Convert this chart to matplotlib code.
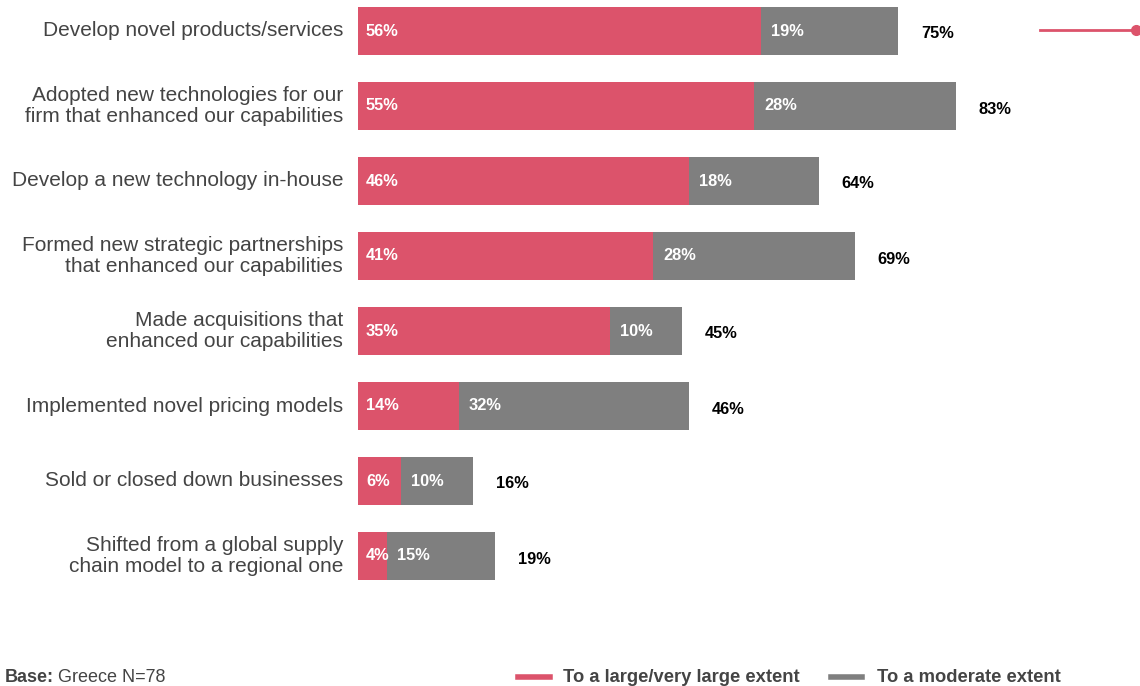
import matplotlib
matplotlib.use("Agg")
import matplotlib.pyplot as plt
from matplotlib.lines import Line2D

plt.rcParams['font.family'] = ['Liberation Sans', 'DejaVu Sans']

categories = [
    "Develop novel products/services",
    "Adopted new technologies for our\nfirm that enhanced our capabilities",
    "Develop a new technology in-house",
    "Formed new strategic partnerships\nthat enhanced our capabilities",
    "Made acquisitions that\nenhanced our capabilities",
    "Implemented novel pricing models",
    "Sold or closed down businesses",
    "Shifted from a global supply\nchain model to a regional one",
]
large_extent = [56, 55, 46, 41, 35, 14, 6, 4]
moderate_extent = [19, 28, 18, 28, 10, 32, 10, 15]
totals = [75, 83, 64, 69, 45, 46, 16, 19]

RED = "#DC536B"
GREY = "#7F7F7F"
TEXT = "#444444"

W, H = 1140, 686
fig = plt.figure(figsize=(W / 100, H / 100), dpi=100)

# axes: bars start at x=358px, 7.2 px per percentage point
left_px, bottom_px, top_px = 358, 600, 0
ax = fig.add_axes([left_px / W, 1 - bottom_px / H, (W - left_px) / W, (bottom_px - top_px) / H])
px_per_pct = 7.2
ax.set_xlim(0, (W - left_px) / px_per_pct)
row_px = 75.0
first_center = 31.0
ax.set_ylim((bottom_px - first_center) / row_px, (top_px - first_center) / row_px)
ax.axis("off")

ys = list(range(len(categories)))
bar_h = 0.64
ax.barh(ys, large_extent, height=bar_h, color=RED, linewidth=0)
ax.barh(ys, moderate_extent, left=large_extent, height=bar_h, color=GREY, linewidth=0)

for y, cat, a, b, t in zip(ys, categories, large_extent, moderate_extent, totals):
    ax.text(-15 / px_per_pct, y, cat, ha="right", va="center", fontsize=15,
            color=TEXT, linespacing=1.08)
    ax.text(8 / px_per_pct, y, f"{a}%", ha="left", va="center", fontsize=11.8,
            fontweight="bold", color="white")
    ax.text(a + 10 / px_per_pct, y, f"{b}%", ha="left", va="center",
            fontsize=11.8, fontweight="bold", color="white")
    ax.text(a + b + 23 / px_per_pct, y + 0.04, f"{t}%", ha="left", va="center",
            fontsize=11.8, fontweight="bold", color="black")

# highlight marker on the top row
fig.add_artist(Line2D([1040 / W, 1136 / W], [1 - 30 / H, 1 - 30 / H],
                      color=RED, linewidth=2, transform=fig.transFigure))
fig.add_artist(Line2D([1136 / W], [1 - 30 / H], marker="o", markersize=7,
                      color=RED, transform=fig.transFigure))

# footer: base note and legend
fy = 1 - 677 / H
fig.text(5 / W, fy, "Base:", ha="left", va="center", fontsize=13,
         fontweight="bold", color=TEXT)
fig.text(58 / W, fy, "Greece N=78", ha="left", va="center", fontsize=13, color=TEXT)

fig.add_artist(Line2D([518 / W, 550 / W], [fy, fy], color=RED, linewidth=4,
                      transform=fig.transFigure))
fig.text(563 / W, fy, "To a large/very large extent", ha="left", va="center",
         fontsize=13.2, fontweight="bold", color=TEXT)
fig.add_artist(Line2D([831 / W, 862 / W], [fy, fy], color=GREY, linewidth=4,
                      transform=fig.transFigure))
fig.text(877 / W, fy, "To a moderate extent", ha="left", va="center",
         fontsize=13.2, fontweight="bold", color=TEXT)

fig.savefig("out.png", dpi=100)
